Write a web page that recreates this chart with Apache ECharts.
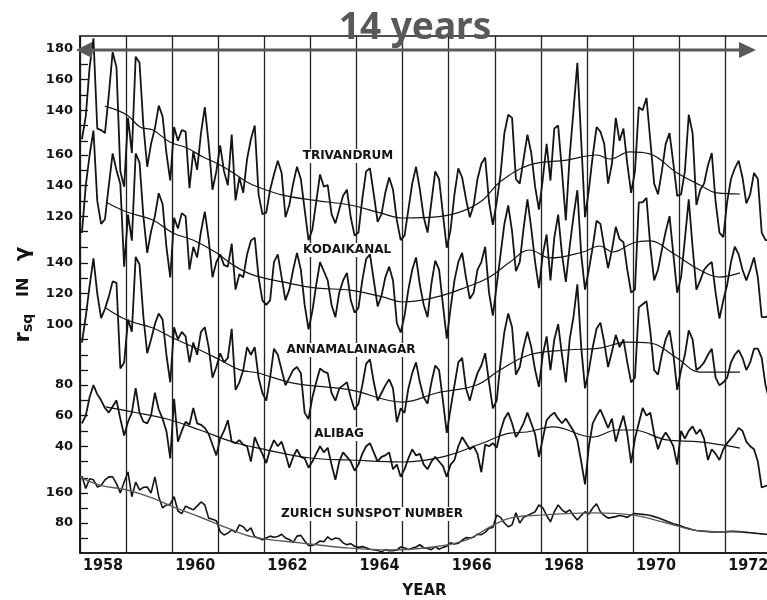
<!DOCTYPE html>
<html>
<head>
<meta charset="utf-8">
<script src="https://cdn.jsdelivr.net/npm/echarts@6/dist/echarts.min.js"></script>
<style>
html,body{margin:0;padding:0;background:#fff;}
#chart{width:767px;height:600px;}
</style>
</head>
<body>
<div id="chart"></div>
<script>
// ---------------- DATA ----------------
const startYear = 1958;              // monthly series start in January 1958
const xTickLabels = [1958, 1960, 1962, 1964, 1966, 1968, 1970, 1972];

// Monthly Sq(H) ranges (gamma), Jan 1958 .. Dec 1972
const trivandrum = [
 121,136,168,187,128,127,125,150,178,168,100, 90,
 135,112,175,171,130,103,118,128,143,136,112, 94,
 129,120,127,126, 89,113,101,125,142,118, 88,100,
 117,100, 91,124, 81, 96, 86,108,121,130, 85, 72,
  73, 88, 98,107, 99, 70, 78, 92,103, 95, 75, 55,
  62, 80, 98, 90, 91, 72, 66, 75, 84, 88, 70, 58,
  60, 82,100,102, 85, 67, 72, 86, 96, 88, 68, 55,
  58, 75, 92,103, 88, 70, 60, 80,100, 95, 72, 50,
  62, 85,102, 96, 82, 70, 78, 95,105,109, 80, 65,
  80, 98,125,137,135, 95, 92,108,124,112, 90, 75,
  95,118, 94,128,130,100, 68,110,140,171,120, 70,
  88,110,129,126,118, 92,105,135,120,128,105, 86,
 100,142,140,148,120, 92, 85,100,118,125,105, 84,
  85,100,137,125, 78, 88, 92,104,112, 80, 60, 57,
  80, 95,102,107, 96, 79, 85, 99, 95, 60, 55, 55
];
const kodaikanal = [
 109,140,160,176,130,115,118,140,161,150,141, 87,
 121,104,161,155,120, 96,110,120,135,128,100, 80,
 119,112,122,120, 85,100, 93,110,123,105, 80, 90,
  95, 88, 87,102, 72, 82, 80, 95,104,106, 80, 65,
  62, 65, 90, 95, 80, 65, 72, 85, 96, 85, 62, 46,
  58, 75, 90, 84, 78, 62, 54, 70, 78, 83, 65, 57,
  60, 78, 92, 95, 78, 61, 68, 80, 87, 78, 50, 44,
  55, 72, 85, 93, 75, 62, 54, 76, 91, 85, 62, 40,
  60, 78, 90, 96, 80, 66, 70, 85, 90,100, 70, 55,
  75, 95,115,127,110, 84, 90,112,131,112, 90, 73,
  95,108, 78,106,121, 95, 77,100,120,137, 95, 72,
  85,100,117,115,100, 86, 98,113,105,103, 85, 70,
  72,129,129,132,100, 78, 85, 98,110,120, 95, 70,
  80,105,131,100, 72, 78, 85, 88, 90, 70, 53, 65,
  75, 90,100, 95, 85, 78, 85, 93, 80, 54, 54, 55
];
const annamalainagar = [
  88,105,125,143,120,104,110,118,128,127, 71, 75,
 103, 95,144,139,105, 81, 90,100,107,103, 80, 62,
  98, 90, 95, 92, 75, 88, 80, 95, 98, 85, 65, 72,
  81, 75, 78, 97, 57, 62, 70, 85, 80, 85, 65, 55,
  50, 65, 84, 80, 70, 60, 65, 70, 72, 68, 42, 38,
  52, 62, 71, 69, 68, 55, 50, 58, 60, 62, 52, 44,
  48, 60, 74, 77, 62, 50, 55, 60, 64, 58, 36, 45,
  42, 58, 68, 75, 62, 52, 48, 62, 73, 70, 50, 29,
  45, 60, 75, 78, 58, 50, 60, 68, 73, 81, 62, 45,
  50, 75, 95,107, 98, 67, 72, 85, 95, 85, 70, 59,
  80, 92, 70, 90,100, 80, 62, 90,105,126, 85, 58,
  70, 85, 97,101, 88, 72, 82, 93, 85, 90, 75, 62,
  65,111,113,115, 95, 70, 67, 80, 90, 96, 80, 57,
  70, 80, 96, 90, 70, 72, 75, 80, 84, 65, 60, 62,
  65, 75, 80, 83, 78, 70, 75, 84, 84, 78, 60, 50
];
const alibag = [
  55, 60, 72, 80, 74, 70, 65, 62, 66, 70, 58, 47,
  56, 62, 78, 62, 56, 55, 60, 75, 64, 58, 50, 32,
  71, 43, 50, 56, 54, 65, 55, 54, 52, 48, 41, 34,
  45, 50, 57, 43, 42, 44, 41, 40, 30, 46, 40, 35,
  29, 38, 44, 40, 43, 35, 26, 33, 38, 33, 32, 26,
  30, 35, 40, 36, 39, 28, 18, 30, 36, 33, 30, 24,
  28, 35, 40, 42, 36, 30, 33, 34, 36, 25, 28, 20,
  25, 32, 38, 34, 35, 28, 25, 30, 33, 30, 27, 20,
  28, 31, 40, 46, 42, 38, 40, 35, 23, 41, 40, 42,
  39, 50, 58, 62, 55, 46, 50, 55, 62, 55, 48, 33,
  45, 57, 60, 62, 58, 55, 58, 54, 50, 44, 30, 15,
  40, 55, 60, 64, 58, 52, 58, 43, 52, 60, 48, 29,
  45, 55, 65, 60, 62, 48, 38, 45, 49, 45, 40, 28,
  50, 45, 50, 53, 48, 51, 45, 31, 38, 35, 31, 38,
  42, 45, 48, 52, 50, 43, 40, 38, 30, 13, 14, 15
];
const zurich = [
 205,172,198,195,176,180,195,203,203,185,160,189,
 216,150,189,168,175,176,160,203,150,120,128,130,
 150,112,105,125,120,115,125,136,128, 93, 90, 86,
  57, 48, 53, 62, 55, 75, 70, 58, 67, 43, 40, 35,
  40, 45, 42, 44, 50, 40, 36, 28, 45, 47, 32, 20,
  20, 25, 32, 30, 43, 35, 40, 38, 27, 22, 25, 18,
  15, 17, 14, 10,  9,  7,  3,  9,  6,  6,  8, 16,
  14,  9, 13, 16, 22, 14, 12,  9, 17, 10, 15, 18,
  27, 24, 26, 34, 41, 40, 42, 50, 49, 55, 66, 68,
 101, 95, 80, 70, 75,107, 80, 95,100,105,110,128,
 120,100, 83,110,128,115,108,115,100, 88,100,110,
 104,120,131,110,100, 93, 95, 97,100, 98, 95,102,
 105,104,103,102,100, 97, 94, 90, 86, 82, 78, 75,
  72, 68, 65, 62, 60, 59, 58, 57, 56, 56, 56, 56,
  57, 58, 58, 57, 56, 55, 54, 53, 52, 51, 50, 49
];

// Smoothed (running mean) curves: time in years, value
const trivSmoothT = [1958.54,1959.02,1959.30,1959.58,1959.95,1960.32,1960.67,1961.04,1961.32,1961.62,1961.86,1962.40,1963.10,1963.86,1964.50,1965.01,1965.74,1966.30,1966.74,1967.11,1967.76,1968.56,1969.21,1969.50,1969.93,1970.36,1970.95,1971.45,1971.82,1972.32];
const trivSmoothV = [142.7,136.9,129.0,127.0,119.2,115.3,109.4,104.2,99.1,93.1,89.8,84.5,81.0,78.0,73.0,69.5,70.2,74.0,81.3,93.1,104.2,107.4,110.7,108.1,112.7,111.4,99.1,91.1,85.9,85.2];
const kodaiSmoothT = [1958.56,1959.02,1959.58,1960.02,1960.45,1960.97,1961.32,1961.75,1962.40,1963.14,1963.86,1964.57,1965.01,1965.74,1966.39,1966.89,1967.33,1967.76,1968.20,1968.91,1969.28,1969.56,1970.00,1970.36,1970.86,1971.45,1971.88,1972.32];
const kodaiSmoothV = [129.3,122.7,117.5,109.0,104.4,95.9,88.1,81.6,77.0,73.0,71.7,67.2,63.9,67.2,73.7,80.2,90.0,97.9,92.7,96.6,100.5,96.6,102.5,103.8,95.9,84.8,80.2,82.9];
const annaSmoothT = [1958.56,1959.02,1959.58,1960.02,1960.60,1961.04,1961.47,1961.86,1962.62,1963.86,1965.01,1965.74,1966.61,1967.11,1967.76,1968.56,1969.28,1969.87,1970.36,1970.95,1971.45,1972.32];
const annaSmoothV = [110.6,102.7,97.5,91.0,83.1,76.6,70.1,68.1,61.5,57.0,49.1,55.0,60.2,70.0,80.0,83.1,84.4,88.3,87.7,77.9,68.7,68.7];
const alibagSmoothT = [1958.56,1959.15,1959.89,1960.60,1961.32,1961.86,1962.99,1963.86,1965.01,1965.87,1966.74,1967.33,1967.70,1968.26,1969.13,1969.65,1970.00,1970.73,1971.45,1972.32];
const alibagSmoothV = [65.7,62.4,57.8,50.6,42.8,38.8,32.3,31.0,29.7,33.0,42.1,48.6,49.3,52.6,46.0,50.6,50.6,44.1,42.8,38.8];
const zurichSmoothT = [1958.00,1958.43,1959.02,1959.52,1960.02,1960.60,1961.19,1961.75,1962.77,1963.86,1964.72,1965.66,1966.39,1966.89,1967.33,1967.98,1969.13,1970.00,1970.73,1971.45,1972.32];
const zurichSmoothV = [202,181,168,149,123,96,67,43,27,13,8,16,35,69,93,101,107,101,80,59,56];

// Tick labels / tick values on the left axis
const trivLabels = [140,160,180],  trivTicks = [120,130,140,150,160,170,180];
const kodaiLabels = [120,140,160], kodaiTicks = [100,110,120,130,140,150,160];
const annaLabels = [100,120,140],  annaTicks = [70,80,90,100,110,120,130,140];
const alibagLabels = [40,60,80],   alibagTicks = [30,40,50,60,70,80];
const zurichLabels = [80,160],     zurichTicks = [40,80,120,160,200];

// ---------------- BUILD ----------------
function monthly(arr){ return arr.map((v,i)=>[startYear + (i+0.5)/12, v]); }
function pairs(t,v){ return t.map((x,i)=>[x, v[i]]); }

const FONT = '"DejaVu Sans", sans-serif';
const INK = '#141414';

function yAx(min, max, labels, ticks, extra){
  return Object.assign({
    type:'value', position:'left', min:min, max:max, offset:0,
    axisLine:{show:false, onZero:false},
    splitLine:{show:false},
    axisTick:{show:true, inside:true, length:8, customValues:ticks, lineStyle:{color:INK,width:1.3}},
    axisLabel:{show:true, customValues:labels, margin:7, color:INK, fontFamily:FONT, fontWeight:'bold', fontSize:13}
  }, extra||{});
}

const chart = echarts.init(document.getElementById('chart'), null, {renderer:'canvas'});

function lineSeries(name, data, yIdx, width, color, smooth){
  return {type:'line', name:name, xAxisIndex:0, yAxisIndex:yIdx, data:data,
    symbol:'none', showSymbol:false, smooth:smooth, z:3,
    lineStyle:{color:color, width:width}, emphasis:{disabled:true}};
}

function stationLabel(text, x, y){
  return {type:'text', x:x, y:y, z:1,
    style:{text:text, fill:INK, font:'bold 12px "DejaVu Sans", sans-serif',
      align:'center', verticalAlign:'middle', backgroundColor:'#fff', padding:[1,2]}};
}

const option = {
  animation:false,
  backgroundColor:'#fff',
  grid:{left:80, right:-2, top:36, bottom:47, containLabel:false, outerBoundsMode:'none',
    show:true, borderColor:INK, borderWidth:1.5, backgroundColor:'transparent'},
  xAxis:[
    {type:'value', position:'bottom', min:1958, max:1972.95, interval:1,
      axisLine:{show:true, onZero:false, lineStyle:{color:INK, width:1.5}},
      axisTick:{show:false}, axisLabel:{show:false},
      splitLine:{show:true, lineStyle:{color:'#222', width:1.3}},
      name:'YEAR', nameLocation:'middle', nameGap:31,
      nameTextStyle:{color:INK, fontFamily:FONT, fontWeight:'bold', fontSize:15}},
    {type:'value', position:'bottom', min:1958, max:1972.95, interval:0.5,
      axisLine:{show:false, onZero:false}, axisTick:{show:false}, splitLine:{show:false},
      axisLabel:{show:true, margin:5, color:INK, fontFamily:'"Liberation Sans Narrow", "DejaVu Sans Condensed", sans-serif', fontWeight:'bold', fontSize:16,
        formatter:function(v){
          const y = Math.floor(v + 1e-6);
          const f = v - y;
          if (Math.abs(f-0.5) < 1e-3 && xTickLabels.indexOf(y) >= 0) return String(y);
          return '';
        }}}
  ],
  yAxis:[
    yAx(-149.5, 188.5, trivLabels, trivTicks, {
      axisLine:{show:true, onZero:false, lineStyle:{color:INK, width:1.5}},
      name:'{r|r}{s|sq}   IN   {g|γ}', nameLocation:'middle', nameRotate:90, nameGap:44,
      nameTextStyle:{color:INK, fontFamily:FONT, fontWeight:'bold', fontSize:16,
        rich:{r:{fontSize:21, fontWeight:'bold', fontFamily:FONT, color:INK},
              s:{fontSize:14, fontWeight:'bold', fontFamily:FONT, color:INK, padding:[9,0,0,0]},
              g:{fontSize:21, fontWeight:'bold', fontFamily:FONT, color:INK}}}
    }),
    yAx(-100.2, 237.8, kodaiLabels, kodaiTicks),
    yAx(-49.6, 288.4, annaLabels, annaTicks),
    yAx(-29.8, 308.2, alibagLabels, alibagTicks),
    yAx(0, 1378, zurichLabels, zurichTicks)
  ],
  series:[
    lineSeries('Trivandrum', monthly(trivandrum), 0, 1.8, INK, false),
    lineSeries('Trivandrum smoothed', pairs(trivSmoothT, trivSmoothV), 0, 1.2, INK, 0.4),
    lineSeries('Kodaikanal', monthly(kodaikanal), 1, 1.8, INK, false),
    lineSeries('Kodaikanal smoothed', pairs(kodaiSmoothT, kodaiSmoothV), 1, 1.2, INK, 0.4),
    lineSeries('Annamalainagar', monthly(annamalainagar), 2, 1.8, INK, false),
    lineSeries('Annamalainagar smoothed', pairs(annaSmoothT, annaSmoothV), 2, 1.2, INK, 0.4),
    lineSeries('Alibag', monthly(alibag), 3, 1.8, INK, false),
    lineSeries('Alibag smoothed', pairs(alibagSmoothT, alibagSmoothV), 3, 1.2, INK, 0.4),
    lineSeries('Zurich sunspot number', monthly(zurich), 4, 1.6, INK, false),
    lineSeries('Zurich smoothed', pairs(zurichSmoothT, zurichSmoothV), 4, 1.4, '#5a5a5a', 0.4)
  ],
  graphic:[
    stationLabel('TRIVANDRUM', 348, 156),
    stationLabel('KODAIKANAL', 347, 250),
    stationLabel('ANNAMALAINAGAR', 351, 350),
    stationLabel('ALIBAG', 339, 434),
    stationLabel('ZURICH SUNSPOT NUMBER', 372, 514),
    {type:'line', z:20, shape:{x1:88, y1:50, x2:742, y2:50}, style:{stroke:'#595959', lineWidth:3}},
    {type:'polygon', z:20, shape:{points:[[76,50],[92,42],[92,58]]}, style:{fill:'#595959'}},
    {type:'polygon', z:20, shape:{points:[[756,50],[739,42],[739,58]]}, style:{fill:'#595959'}},
    {type:'text', z:20, x:415, y:28, style:{text:'14 years', fill:'#595959',
      font:'bold 37px "Noto Sans", "DejaVu Sans", sans-serif', align:'center', verticalAlign:'middle'}}
  ]
};
chart.setOption(option);
</script>
</body>
</html>
